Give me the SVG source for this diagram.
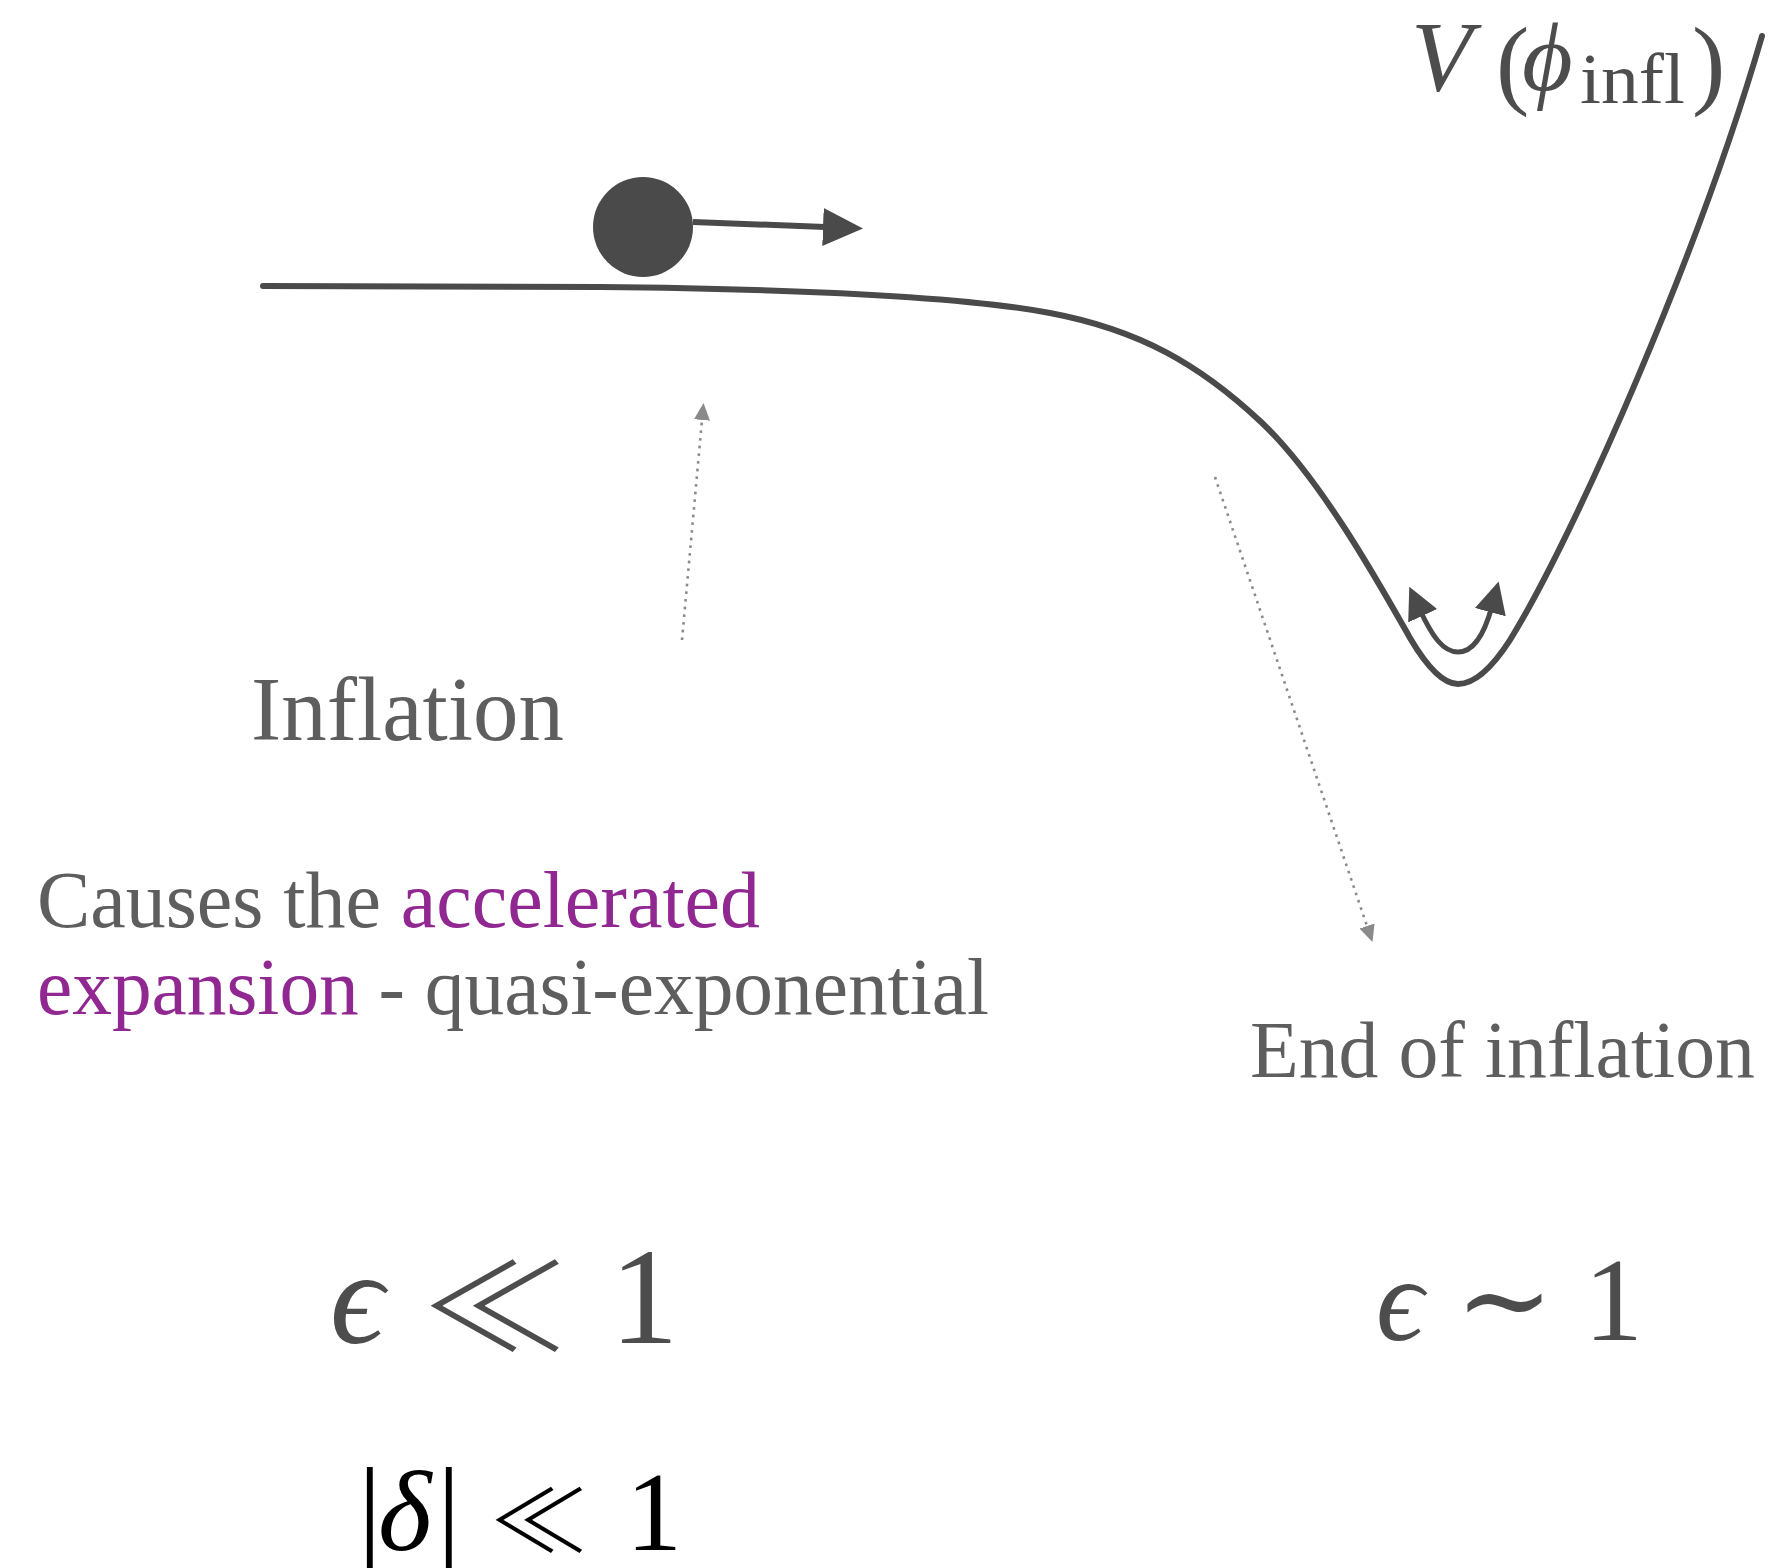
<svg xmlns="http://www.w3.org/2000/svg" width="1773" height="1568" viewBox="0 0 1773 1568">
<style>
.lbl{font-family:"Liberation Serif","Times New Roman",serif;fill:#5e5e5e}
.pur{fill:#912891}
.math{font-family:"Liberation Serif","DejaVu Serif",serif;fill:#4d4d4d}
.mathb{font-family:"Liberation Serif","DejaVu Serif",serif;fill:#000}
.rel{font-family:"Noto Sans CJK SC","DejaVu Sans",sans-serif;font-weight:300}
.dot{fill:none;stroke:#8a8a8a;stroke-width:2.6;stroke-dasharray:2.6 5.1}
.curve{fill:none;stroke:#4a4a4a;stroke-width:6;stroke-linecap:round;stroke-linejoin:round}
</style>
<defs>
<marker id="hd" markerUnits="userSpaceOnUse" markerWidth="18" markerHeight="18" refX="0" refY="8" orient="auto" viewBox="0 0 18 16">
<path d="M0,0 L17,8 L0,16 z" fill="#8a8a8a"/>
</marker>
<marker id="hb" markerUnits="userSpaceOnUse" markerWidth="42" markerHeight="40" refX="2" refY="19" orient="auto" viewBox="0 0 42 38">
<path d="M0,0 L40,19 L0,38 z" fill="#4a4a4a"/>
</marker>
<marker id="ho" markerUnits="userSpaceOnUse" markerWidth="34" markerHeight="34" refX="6" refY="15" orient="auto-start-reverse" viewBox="0 0 32 30">
<path d="M0,0 L30,15 L0,30 z" fill="#4a4a4a"/>
</marker>
</defs>

<g id="potential">
<path class="curve" d="M263,286 L600,287 C800,289 960,296 1050,313 C1140,330 1200,365 1260,421 C1320,477 1380,585 1410,638 C1430,672 1445,684 1458,684 C1475,684 1492,668 1510,640 C1575,535 1700,250 1762,36"/>
</g>

<g id="ball">
<circle cx="643" cy="227" r="50" fill="#4a4a4a"/>
</g>

<g id="potential-label">
<text class="math" x="1411" y="90" font-size="100" font-style="italic">V</text>
<text class="math" x="1496" y="96" font-size="100">(</text>
<text class="math" x="1522" y="90" font-size="98" font-style="italic">ϕ</text>
<text class="math" x="1580" y="103" font-size="72" textLength="105" lengthAdjust="spacingAndGlyphs">infl</text>
<text class="math" x="1692" y="96" font-size="100">)</text>
</g>

<g id="inflation-label">
<text class="lbl" x="251" y="740" font-size="90" textLength="313" lengthAdjust="spacingAndGlyphs">Inflation</text>
</g>

<g id="description">
<text class="lbl" x="37" y="927" font-size="80" textLength="723" lengthAdjust="spacingAndGlyphs">Causes the <tspan class="pur">accelerated</tspan></text>
<text class="lbl" x="37" y="1014" font-size="80" textLength="952" lengthAdjust="spacingAndGlyphs"><tspan class="pur">expansion</tspan> - quasi-exponential</text>
</g>

<g id="end-label">
<text class="lbl" x="1250" y="1077" font-size="80" textLength="505" lengthAdjust="spacingAndGlyphs">End of inflation</text>
</g>

<g id="cond-inflation">
<text class="math" x="330" y="1343" font-size="134" font-style="italic">ϵ</text>
<text class="math rel" x="421" y="1362" font-size="150" textLength="148" lengthAdjust="spacingAndGlyphs" transform="translate(0,1307) scale(1,0.8) translate(0,-1307)">≪</text>
<text class="math" x="610" y="1343" font-size="137">1</text>
</g>

<g id="cond-end">
<text class="math" x="1376" y="1340" font-size="118" font-style="italic">ϵ</text>
<text class="math" x="1455" y="1340" font-size="118">∼</text>
<text class="math" x="1584" y="1340" font-size="118">1</text>
</g>

<g id="cond-delta">
<text class="mathb" x="358" y="1550" font-size="118">|</text>
<text class="mathb" x="378" y="1550" font-size="115" font-style="italic">δ</text>
<text class="mathb" x="437" y="1550" font-size="118">|</text>
<text class="mathb rel" x="489" y="1562" font-size="110" textLength="100" lengthAdjust="spacingAndGlyphs" transform="translate(0,1518) scale(1,0.78) translate(0,-1518)">≪</text>
<text class="mathb" x="626" y="1550" font-size="112">1</text>
</g>

<g id="connectors">
<line x1="693" y1="222" x2="825" y2="227" stroke="#4a4a4a" stroke-width="6" marker-end="url(#hb)"/>
<path d="M1420,610 C1432,636 1443,652 1458,652 C1474,652 1485,632 1492,606" fill="none" stroke="#4a4a4a" stroke-width="5" marker-start="url(#ho)" marker-end="url(#ho)"/>
<line class="dot" x1="682" y1="640" x2="702" y2="420" marker-end="url(#hd)"/>
<line class="dot" x1="1215" y1="477" x2="1367" y2="926" marker-end="url(#hd)"/>
</g>
</svg>
